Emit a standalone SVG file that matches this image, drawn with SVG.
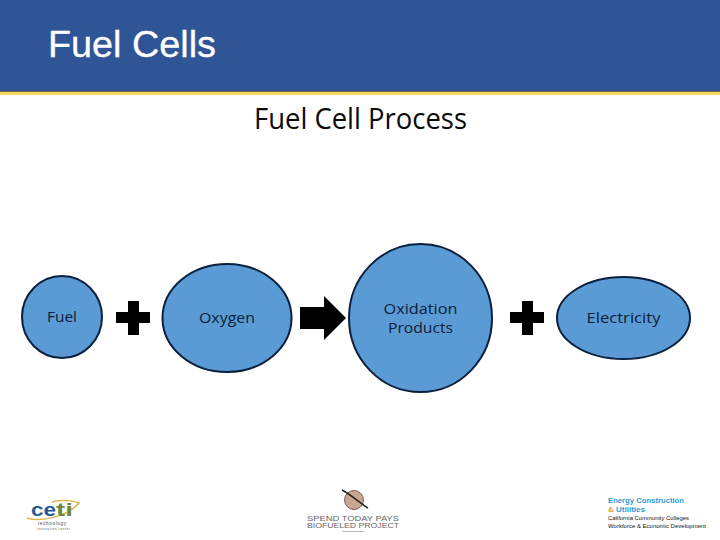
<svg xmlns="http://www.w3.org/2000/svg" width="720" height="540" viewBox="0 0 720 540">
<style>
.n{fill:#5B9BD5;stroke:#0B1F3F;stroke-width:2}
.l{font-family:"Open Sans","Liberation Sans",sans-serif;font-size:14.5px;font-weight:500;fill:#0C1E38;text-anchor:middle}
.k{fill:#000}
.s{font-family:"Liberation Sans",sans-serif}
</style>
<rect width="720" height="540" fill="#fff"/>
<g id="header">
<rect width="720" height="91" fill="#2F5597"/>
<rect y="91" width="720" height="2" fill="#6F6A45"/>
<rect y="92" width="720" height="3" fill="#F6D860"/>
<text x="48" y="57" font-family="Liberation Sans, sans-serif" font-size="36" fill="#fff" stroke="#fff" stroke-width="0.300" textLength="168" lengthAdjust="spacingAndGlyphs">Fuel Cells</text>
</g>
<text id="title" x="254" y="129" font-family="Open Sans, Liberation Sans, sans-serif" font-size="29" font-weight="500" fill="#0a0a0a" textLength="213" lengthAdjust="spacingAndGlyphs">Fuel Cell Process</text>
<g id="fuel"><ellipse class="n" cx="62" cy="317" rx="40" ry="41"/><text class="l" x="62" y="322" textLength="30" lengthAdjust="spacingAndGlyphs">Fuel</text></g>
<g id="oxygen"><ellipse class="n" cx="227" cy="318" rx="64.500" ry="54"/><text class="l" x="227" y="323" textLength="56" lengthAdjust="spacingAndGlyphs">Oxygen</text></g>
<g id="oxidation"><ellipse class="n" cx="420.500" cy="318" rx="71.500" ry="74"/><text class="l" x="420.500" y="314" textLength="74" lengthAdjust="spacingAndGlyphs">Oxidation</text><text class="l" x="420.500" y="333" textLength="65" lengthAdjust="spacingAndGlyphs">Products</text></g>
<g id="electricity"><ellipse class="n" cx="623.500" cy="318" rx="66.500" ry="41"/><text class="l" x="623.500" y="323" textLength="74" lengthAdjust="spacingAndGlyphs">Electricity</text></g>
<g id="connectors">
<path class="k" d="M116 312H128V301H139V312H150V323H139V335H128V323H116Z"/>
<path class="k" d="M300 307H324V296L346 318L324 340V329H300Z"/>
<path class="k" d="M510 312H522V301H533V312H544V323H533V335H522V323H510Z"/>
</g>
<g id="logo-ceti">
<path d="M27 518C38 522 66 518 79 503C72 500 60 500 52 502" fill="none" stroke="#D9B64E" stroke-width="1.500"/>
<text x="31" y="516" class="s" font-size="18" font-weight="700" fill="#1F5C94" textLength="25" lengthAdjust="spacingAndGlyphs">ce</text>
<text x="56" y="516" class="s" font-size="18" font-weight="700" fill="#6E8B3D" textLength="17" lengthAdjust="spacingAndGlyphs">ti</text>
<text x="38" y="525" class="s" font-size="4.500" fill="#444" textLength="28">technology</text>
<text x="37" y="530" class="s" font-size="3.200" fill="#666" textLength="33">innovation center</text>
</g>
<g id="logo-project">
<circle cx="354" cy="500" r="9.500" fill="#C9A78F" stroke="#7A5C66" stroke-width="1"/>
<path d="M342 490C350 494 360 503 368 508" fill="none" stroke="#222" stroke-width="1.500"/>
<text x="353" y="521" class="s" font-size="6.500" fill="#666" text-anchor="middle" textLength="92" lengthAdjust="spacingAndGlyphs">SPEND TODAY PAYS</text>
<text x="353" y="528" class="s" font-size="6.500" fill="#666" text-anchor="middle" textLength="92" lengthAdjust="spacingAndGlyphs">BIOFUELED PROJECT</text>
<rect x="342" y="531" width="22" height="1" fill="#bbb"/>
</g>
<g id="logo-ecu" class="s" font-size="7">
<text x="608" y="503" font-weight="700" fill="#2E9BD0" textLength="76" lengthAdjust="spacingAndGlyphs">Energy Construction</text>
<text x="608" y="512" font-weight="700" fill="#2E9BD0" textLength="37" lengthAdjust="spacingAndGlyphs"><tspan fill="#E0A526">&amp;</tspan> Utilities</text>
<text x="608" y="520" font-size="6" fill="#111" textLength="81" lengthAdjust="spacingAndGlyphs">California Community Colleges</text>
<text x="608" y="528" font-size="6" fill="#111" textLength="98" lengthAdjust="spacingAndGlyphs">Workforce &amp; Economic Development</text>
</g>
</svg>
